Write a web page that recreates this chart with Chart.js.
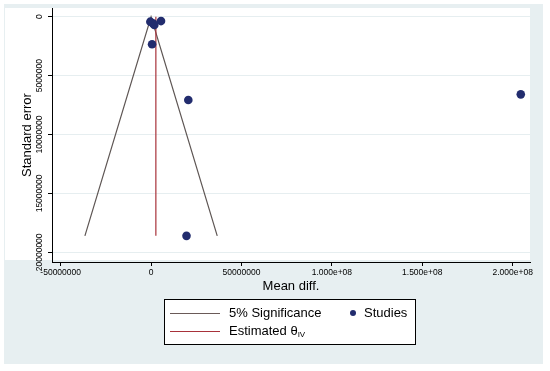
<!DOCTYPE html>
<html>
<head>
<meta charset="utf-8">
<script src="https://cdn.jsdelivr.net/npm/chart.js@4.4.1/dist/chart.umd.min.js"></script>
<style>
  body { margin: 0; background: #fff; }
  canvas { display: block; }
</style>
</head>
<body>
<canvas id="funnelChart" width="550" height="371"></canvas>
<script>
// values
const xTickValues = [-50000000, 0, 50000000, 100000000, 150000000, 200000000];
const xTickLabels = ['-50000000', '0', '50000000', '1.000e+08', '1.500e+08', '2.000e+08'];
const yTickValues = [0, 5000000, 10000000, 15000000, 20000000];
const yTickLabels = ['0', '5000000', '10000000', '15000000', '20000000'];

const studyMeanDiff = [-400000, 1000000, 1800000, 5500000, 550000, 20600000, 19600000, 204500000];
const studySE = [420000, 550000, 700000, 370000, 2340000, 7070000, 18600000, 6590000];

// 5% significance funnel (left bottom, apex, right bottom)
const funnelX = [-36600000, 0, 36600000];
const funnelSE = [18600000, 0, 18600000];

const thetaIV = 2650000;
const thetaSE = [0, 18600000];

const FONT = 'Liberation Sans, Arial, Helvetica, sans-serif';

const toPoints = (xs, ys) => xs.map((x, i) => ({x: x, y: ys[i]}));

const backgroundPlugin = {
    id: 'stataBackground',
    beforeDraw(chart) {
        const ctx = chart.ctx;
        ctx.save();
        ctx.fillStyle = '#ffffff';
        ctx.fillRect(0, 0, chart.width, chart.height);
        ctx.fillStyle = '#e7eff1';
        ctx.fillRect(4, 4, 539, 360);
        ctx.fillStyle = '#ffffff';
        ctx.fillRect(5, 8, 525, 252);
        ctx.restore();
    }
};

const yLabelPlugin = {
    id: 'rotatedYLabels',
    afterDraw(chart) {
        const ctx = chart.ctx;
        const yScale = chart.scales.y;
        ctx.save();
        ctx.fillStyle = '#000';
        ctx.font = '8.5px ' + FONT;
        ctx.textAlign = 'center';
        ctx.textBaseline = 'middle';
        yTickValues.forEach((v, i) => {
            const py = yScale.getPixelForValue(v);
            ctx.save();
            ctx.translate(40, py);
            ctx.rotate(-Math.PI / 2);
            ctx.fillText(yTickLabels[i], 0, 0);
            ctx.restore();
        });
        ctx.restore();
    }
};

const legendPlugin = {
    id: 'stataLegend',
    afterDraw(chart) {
        const ctx = chart.ctx;
        ctx.save();
        ctx.fillStyle = '#ffffff';
        ctx.fillRect(164, 299, 252, 45);
        ctx.strokeStyle = '#000';
        ctx.lineWidth = 1;
        ctx.strokeRect(164.5, 299.5, 251, 45);

        ctx.lineWidth = 1.2;
        ctx.strokeStyle = '#6a5a58';
        ctx.beginPath();
        ctx.moveTo(170, 313.5);
        ctx.lineTo(220, 313.5);
        ctx.stroke();
        ctx.strokeStyle = '#a8323a';
        ctx.beginPath();
        ctx.moveTo(170, 331.5);
        ctx.lineTo(220, 331.5);
        ctx.stroke();

        ctx.fillStyle = '#222c6e';
        ctx.beginPath();
        ctx.arc(353, 313, 3, 0, Math.PI * 2);
        ctx.fill();

        ctx.fillStyle = '#000';
        ctx.font = '13px ' + FONT;
        ctx.textBaseline = 'middle';
        ctx.textAlign = 'left';
        ctx.fillText('5% Significance', 229, 313);
        ctx.fillText('Studies', 364, 313);
        const est = 'Estimated \u03b8';
        ctx.fillText(est, 229, 331);
        const w = ctx.measureText(est).width;
        ctx.font = '8px ' + FONT;
        ctx.fillText('IV', 229 + w, 335);
        ctx.restore();
    }
};

const config = {
    type: 'scatter',
    data: {
        datasets: [
            {
                label: 'Studies',
                data: toPoints(studyMeanDiff, studySE),
                backgroundColor: '#222c6e',
                borderColor: '#222c6e',
                pointRadius: 4.3,
                borderWidth: 0
            },
            {
                label: 'Estimated theta IV',
                data: toPoints([thetaIV, thetaIV], thetaSE),
                showLine: true,
                borderColor: '#a8323a',
                borderWidth: 1.2,
                pointRadius: 0
            },
            {
                label: '5% Significance',
                data: toPoints(funnelX, funnelSE),
                showLine: true,
                borderColor: '#5e5654',
                borderWidth: 1.2,
                pointRadius: 0
            }
        ]
    },
    options: {
        responsive: false,
        animation: false,
        devicePixelRatio: 1,
        layout: { padding: { top: 8, right: 20, bottom: 77, left: 0 } },
        plugins: {
            legend: { display: false },
            tooltip: { enabled: false }
        },
        scales: {
            x: {
                type: 'linear',
                min: -54800000,
                max: 209600000,
                afterBuildTicks: s => { s.ticks = xTickValues.map(v => ({value: v})); },
                afterFit: s => { s.height = 32; },
                ticks: {
                    callback: (v, i) => xTickLabels[i],
                    font: { family: FONT, size: 8.5 },
                    color: '#000',
                    padding: 2,
                    maxRotation: 0,
                    minRotation: 0,
                    autoSkip: false
                },
                grid: { drawOnChartArea: false, tickLength: 4, tickColor: '#000' },
                border: { color: '#000', width: 1 },
                title: {
                    display: true,
                    text: 'Mean diff.',
                    font: { family: FONT, size: 13 },
                    color: '#000',
                    padding: 0
                }
            },
            y: {
                type: 'linear',
                reverse: true,
                min: -740000,
                max: 20820000,
                afterBuildTicks: s => { s.ticks = yTickValues.map(v => ({value: v})); },
                afterFit: s => { s.width = 52; },
                ticks: { display: false },
                grid: { color: '#e6eef0', lineWidth: 1, tickLength: 4, tickColor: '#000' },
                border: { color: '#000', width: 1 },
                title: {
                    display: true,
                    text: 'Standard error',
                    font: { family: FONT, size: 13 },
                    color: '#000',
                    padding: { top: 20, bottom: 0 }
                }
            }
        }
    },
    plugins: [backgroundPlugin, yLabelPlugin, legendPlugin]
};

new Chart(document.getElementById('funnelChart'), config);
</script>
</body>
</html>
